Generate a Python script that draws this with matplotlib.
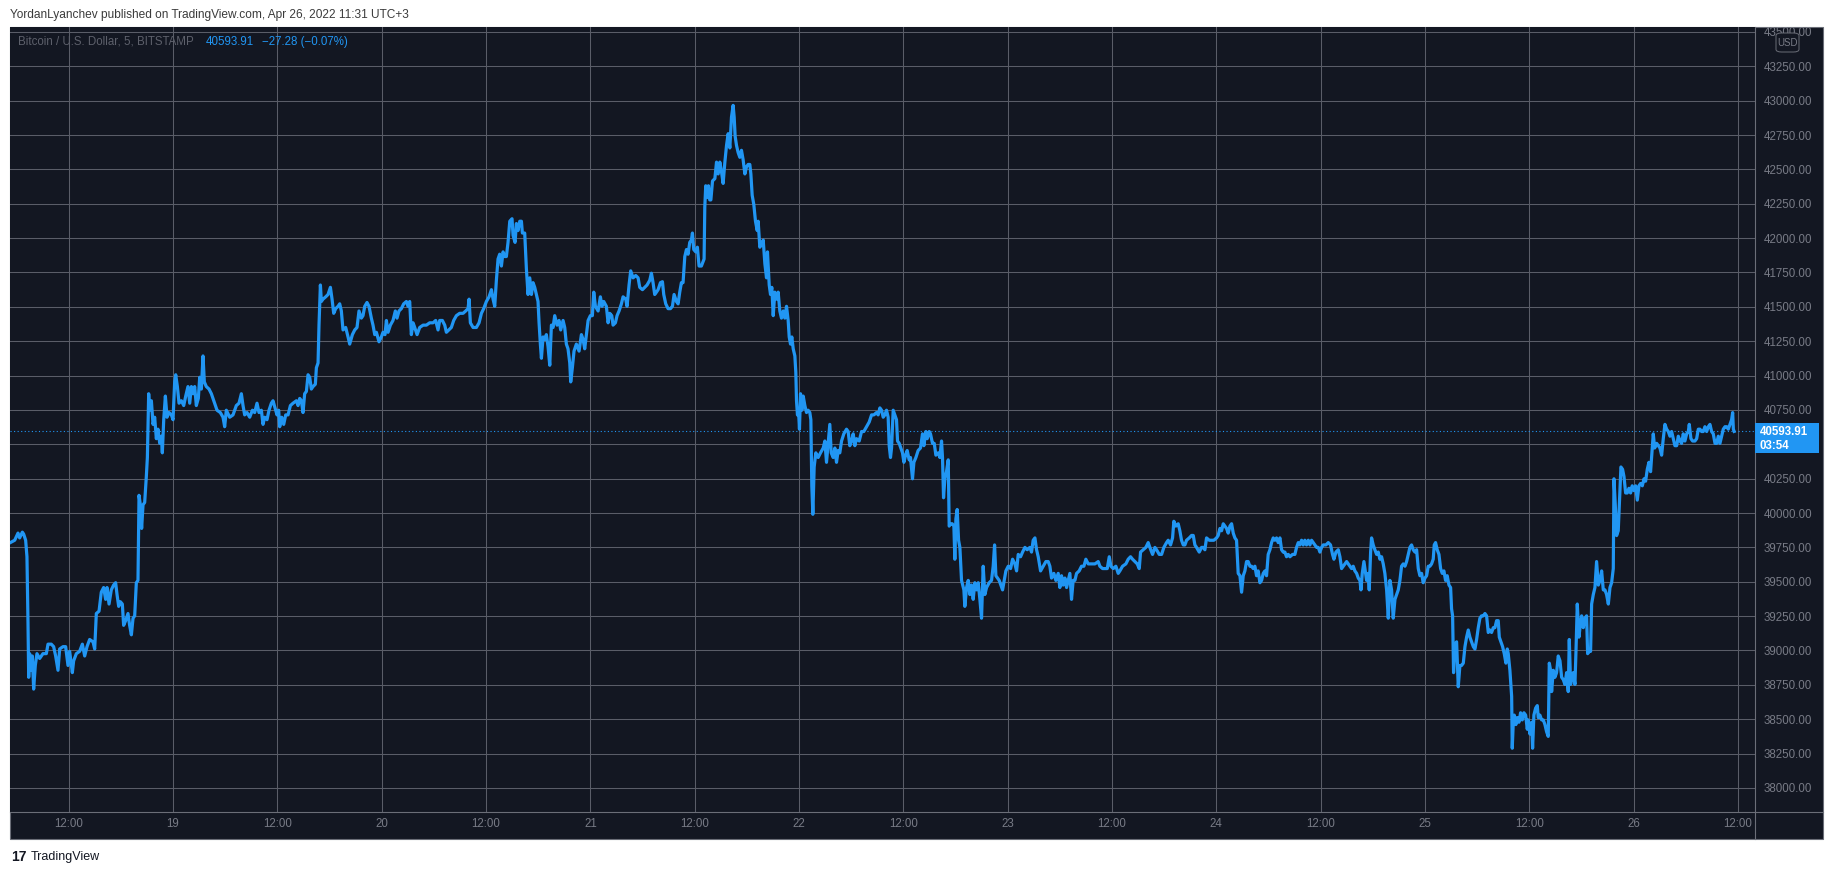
import matplotlib
matplotlib.use("Agg")
import matplotlib.pyplot as plt
import matplotlib.dates as mdates
from matplotlib.patches import Rectangle, FancyBboxPatch
from matplotlib.lines import Line2D
import numpy as np
import pandas as pd
from datetime import datetime, timedelta

# BTC/USD 5m, Bitstamp -- (hour of day, price), one list per day
apr18 = [(5.29,39785),(5.79,39802),(6.17,39854),(6.36,39819),(6.67,39861),(6.82,39847),(7.05,39802),(7.20,39682),(7.32,39200),(7.40,38805),
         (7.51,38977),(7.70,38856),(7.82,38960),(7.97,38719),(8.16,38891),(8.35,38977),(8.66,38942),(9.04,38977),(9.43,38977),(9.62,39046),
         (10.00,39046),(10.27,39028),(10.50,38960),(10.77,38856),(10.96,39011),(11.35,39028),(11.65,39028),(11.92,38891),(12.11,38994),(12.42,38839),
         (12.57,38925),(12.88,38977),(13.26,38994),(13.57,39046),(13.84,38960),(14.11,39028),(14.41,39080),(14.80,39063),(14.99,39011),(15.18,39269),
         (15.49,39286),(15.75,39424),(16.02,39458),(16.25,39372),(16.41,39458),(16.64,39338),(16.90,39441),(17.17,39476),(17.40,39493),(17.56,39407),
         (17.75,39321),(17.94,39355),(18.17,39338),(18.32,39183),(18.55,39217),(18.82,39269),(19.01,39183),(19.21,39114),(19.40,39235),(19.59,39252),
         (19.78,39493),(19.97,39510),(20.09,40129),(20.24,40060),(20.39,39888),(20.55,40060),(20.74,40077),(20.93,40266),(21.05,40404),(21.20,40868),
         (21.31,40748),(21.51,40817),(21.70,40645),(21.89,40697),(22.08,40541),(22.27,40610),(22.47,40507),(22.66,40559),(22.77,40438),(22.93,40679),
         (23.12,40851),(23.31,40697),(23.54,40731),(23.81,40714)]

apr19 = [(0.00,40679),(0.19,40954),(0.31,41006),(0.50,40920),(0.69,40799),(0.96,40817),(1.23,40782),(1.46,40851),(1.72,40920),(1.92,40799),
         (2.11,40920),(2.30,40868),(2.49,40920),(2.68,40782),(2.91,40834),(3.07,40988),(3.26,40902),(3.45,41143),(3.60,40954),(3.83,40920),
         (4.14,40902),(4.41,40868),(4.79,40799),(5.06,40748),(5.44,40731),(5.75,40697),(5.94,40628),(6.13,40748),(6.52,40697),(6.90,40714),
         (7.28,40782),(7.59,40799),(7.86,40868),(8.05,40782),(8.24,40714),(8.51,40731),(8.82,40697),(9.13,40748),(9.39,40731),(9.66,40799),
         (9.89,40731),(10.16,40748),(10.35,40645),(10.54,40697),(10.81,40679),(11.04,40748),(11.31,40799),(11.50,40817),(11.73,40765),(11.96,40714),
         (12.15,40748),(12.27,40628),(12.50,40697),(12.73,40645),(12.96,40714),(13.23,40714),(13.50,40782),(13.80,40799),(14.19,40817),(14.38,40782),
         (14.57,40834),(14.76,40817),(14.95,40731),(15.14,40868),(15.34,40885),(15.53,41006),(15.72,40988),(15.91,40902),(16.10,40920),(16.37,40937),
         (16.49,41057),(16.68,41092),(16.79,41367),(16.95,41659),(17.06,41539),(17.25,41556),(17.56,41573),(17.83,41590),(18.10,41642),(18.29,41556),
         (18.48,41453),(18.71,41487),(18.98,41504),(19.17,41522),(19.36,41470),(19.55,41332),(19.86,41350),(20.13,41281),(20.32,41229),(20.63,41298),
         (20.90,41332),(21.16,41350),(21.39,41470),(21.66,41418),(21.85,41436),(22.05,41504),(22.31,41532),(22.54,41504),(22.81,41418),(23.00,41367),
         (23.20,41298),(23.39,41315),(23.69,41246),(23.96,41281)]

apr20 = [(0.15,41315),(0.38,41298),(0.54,41401),(0.73,41315),(1.00,41367),(1.30,41401),(1.57,41470),(1.76,41418),(1.99,41470),(2.26,41487),
         (2.53,41522),(2.84,41539),(3.03,41504),(3.22,41539),(3.41,41298),(3.61,41384),(3.80,41350),(4.07,41298),(4.37,41350),(4.76,41367),
         (5.14,41367),(5.52,41384),(5.91,41384),(6.21,41401),(6.48,41332),(6.67,41401),(6.98,41401),(7.25,41367),(7.44,41315),(7.71,41332),
         (8.01,41350),(8.28,41401),(8.59,41436),(8.97,41453),(9.36,41453),(9.66,41470),(9.93,41487),(10.05,41556),(10.20,41384),(10.51,41350),
         (10.89,41350),(11.20,41384),(11.47,41453),(11.73,41487),(12.04,41539),(12.35,41573),(12.62,41625),(12.81,41556),(13.00,41504),(13.19,41693),
         (13.38,41848),(13.57,41883),(13.77,41797),(13.96,41900),(14.15,41866),(14.34,41866),(14.53,41969),(14.73,42123),(14.99,42141),(15.11,42020),
         (15.34,41969),(15.49,42106),(15.68,42055),(15.88,42123),(16.07,42123),(16.18,42037),(16.45,42037),(16.64,41779),(16.83,41590),(17.03,41711),
         (17.22,41590),(17.41,41676),(17.60,41642),(17.79,41590),(17.98,41539),(18.10,41384),(18.25,41229),(18.37,41126),(18.56,41281),(18.75,41264),
         (18.94,41298),(19.13,41212),(19.33,41075),(19.52,41367),(19.71,41350),(19.90,41436),(20.17,41367),(20.40,41401),(20.59,41332),(20.86,41401),
         (21.05,41350),(21.24,41229),(21.43,41195),(21.63,41092),(21.74,40954),(21.93,41057),(22.12,41178),(22.39,41229),(22.70,41178),(22.97,41298),
         (23.16,41264),(23.35,41195),(23.54,41298),(23.74,41401)]

apr21 = [(0.00,41436),(0.23,41436),(0.39,41607),(0.58,41504),(0.89,41470),(1.15,41573),(1.35,41504),(1.54,41539),(1.84,41504),(2.04,41384),
         (2.23,41453),(2.46,41436),(2.61,41367),(2.88,41384),(3.07,41436),(3.30,41470),(3.57,41522),(3.76,41573),(4.07,41556),(4.22,41504),
         (4.45,41659),(4.64,41762),(4.91,41711),(5.22,41728),(5.49,41711),(5.68,41642),(5.99,41625),(6.25,41642),(6.52,41659),(6.83,41693),
         (7.02,41745),(7.21,41676),(7.40,41590),(7.60,41607),(7.79,41625),(8.06,41676),(8.29,41683),(8.44,41590),(8.67,41522),(8.94,41487),
         (9.21,41487),(9.44,41504),(9.63,41590),(9.90,41539),(10.09,41522),(10.28,41607),(10.47,41676),(10.66,41676),(10.86,41866),(11.05,41917),
         (11.24,41883),(11.43,41969),(11.62,41986),(11.74,42037),(11.89,41917),(12.12,41900),(12.31,41934),(12.50,41797),(12.77,41797),(12.97,41831),
         (13.08,41848),(13.16,42226),(13.27,42381),(13.43,42295),(13.58,42381),(13.73,42278),(13.86,42278),(14.05,42416),(14.32,42433),(14.51,42553),
         (14.70,42467),(14.89,42553),(15.08,42484),(15.27,42398),(15.47,42553),(15.66,42674),(15.85,42760),(16.04,42656),(16.23,42880),(16.42,42966),
         (16.54,42880),(16.65,42742),(16.81,42674),(17.00,42622),(17.19,42588),(17.38,42639),(17.57,42570),(17.77,42467),(17.96,42519),(18.15,42536),
         (18.34,42536),(18.46,42467),(18.61,42312),(18.80,42244),(18.99,42123),(19.19,42055),(19.30,42123),(19.49,41934),(19.68,41951),(19.88,41986),
         (20.07,41814),(20.26,41711),(20.37,41900),(20.57,41659),(20.72,41590),(20.87,41642),(21.03,41436),(21.22,41607),(21.41,41556),(21.60,41607),
         (21.79,41470),(21.98,41418),(22.18,41470),(22.37,41418),(22.56,41504),(22.75,41401),(22.87,41281),(23.02,41229),(23.17,41281),(23.33,41195),
         (23.52,41143),(23.63,41023),(23.71,40816),(23.82,40713),(23.94,40748)]

apr22 = [(0.05,40610),(0.17,40868),(0.32,40748),(0.48,40851),(0.67,40782),(0.86,40731),(1.05,40748),(1.24,40731),(1.36,40679),(1.47,40198),
         (1.59,39991),(1.74,40335),(1.93,40438),(2.20,40404),(2.47,40438),(2.78,40473),(2.97,40524),(3.16,40369),(3.35,40507),(3.54,40645),
         (3.70,40438),(3.93,40404),(4.12,40473),(4.31,40369),(4.50,40455),(4.69,40438),(4.89,40524),(5.15,40576),(5.46,40610),(5.65,40593),
         (5.84,40490),(6.04,40524),(6.23,40576),(6.42,40490),(6.61,40541),(6.92,40524),(7.19,40593),(7.45,40593),(7.76,40628),(8.07,40662),
         (8.34,40714),(8.61,40714),(8.91,40731),(9.10,40714),(9.30,40765),(9.49,40748),(9.68,40697),(9.87,40714),(10.06,40748),(10.25,40697),
         (10.37,40490),(10.52,40404),(10.64,40473),(10.83,40748),(11.02,40714),(11.21,40679),(11.33,40524),(11.52,40507),(11.71,40473),(11.90,40438),
         (12.06,40369),(12.25,40421),(12.44,40455),(12.67,40387),(12.82,40404),(13.05,40249),(13.21,40369),(13.44,40404),(13.70,40455),(13.97,40473),
         (14.20,40576),(14.36,40490),(14.59,40593),(14.74,40541),(14.97,40593),(15.12,40576),(15.35,40507),(15.55,40507),(15.74,40421),(16.01,40438),
         (16.20,40404),(16.39,40524),(16.50,40404),(16.62,40111),(16.77,40249),(16.96,40301),(17.16,40387),(17.27,39905),(17.42,39922),(17.62,39922),
         (17.81,39905),(17.92,39664),(18.04,39957),(18.19,40026),(18.35,39802),(18.50,39750),(18.69,39510),(18.96,39441),(19.07,39321),(19.27,39458),
         (19.46,39510),(19.65,39407),(19.84,39476),(20.03,39372),(20.22,39493),(20.42,39441),(20.61,39493),(20.80,39372),(20.99,39235),(21.18,39613),
         (21.37,39407),(21.57,39458),(21.87,39493),(22.14,39510),(22.33,39613),(22.49,39768),(22.64,39544),(22.83,39527),(23.02,39510),(23.21,39476),
         (23.41,39441),(23.60,39510),(23.79,39579)]

apr23 = [(0.06,39613),(0.33,39596),(0.56,39664),(0.83,39630),(1.02,39579),(1.21,39699),(1.48,39682),(1.71,39716),(1.98,39750),(2.24,39733),
         (2.55,39750),(2.74,39716),(2.93,39802),(3.13,39819),(3.32,39733),(3.51,39682),(3.78,39579),(4.08,39613),(4.39,39647),(4.66,39647),
         (4.85,39613),(5.04,39527),(5.31,39561),(5.54,39510),(5.81,39561),(6.00,39458),(6.19,39544),(6.38,39476),(6.58,39527),(6.77,39458),
         (6.96,39510),(7.15,39561),(7.34,39372),(7.53,39510),(7.73,39510),(7.92,39561),(8.22,39579),(8.49,39613),(8.76,39613),(8.99,39664),
         (9.26,39630),(9.64,39630),(10.03,39630),(10.41,39647),(10.60,39613),(10.91,39596),(11.18,39596),(11.45,39596),(11.68,39682),(11.87,39613),
         (12.14,39596),(12.44,39613),(12.71,39561),(12.90,39579),(13.21,39613),(13.59,39630),(13.86,39664),(14.13,39682),(14.36,39664),(14.63,39647),
         (14.90,39630),(15.13,39596),(15.28,39716),(15.59,39733),(15.89,39750),(16.16,39785),(16.35,39750),(16.66,39699),(16.93,39750),(17.12,39733),
         (17.43,39699),(17.70,39699),(17.96,39750),(18.27,39785),(18.46,39802),(18.73,39768),(18.96,39819),(19.11,39940),(19.34,39905),(19.61,39922),
         (19.80,39871),(19.99,39802),(20.19,39768),(20.38,39768),(20.57,39802),(20.88,39819),(21.15,39837),(21.34,39837),(21.53,39768),(21.72,39750),
         (22.03,39716),(22.30,39750),(22.49,39750),(22.68,39733),(22.87,39819),(23.18,39802),(23.45,39802),(23.71,39802)]

apr24 = [(0.02,39819),(0.21,39837),(0.41,39888),(0.60,39871),(0.79,39922),(0.98,39905),(1.17,39888),(1.36,39854),(1.56,39905),(1.75,39922),
         (1.94,39854),(2.13,39819),(2.32,39802),(2.51,39561),(2.71,39544),(2.90,39424),(3.09,39544),(3.28,39579),(3.47,39647),(3.66,39647),
         (3.86,39613),(4.05,39613),(4.24,39596),(4.43,39613),(4.62,39544),(4.81,39579),(5.01,39493),(5.20,39510),(5.39,39561),(5.58,39579),
         (5.77,39544),(5.96,39699),(6.16,39733),(6.35,39785),(6.54,39819),(6.73,39802),(6.92,39819),(7.11,39785),(7.31,39819),(7.50,39733),
         (7.69,39716),(7.88,39716),(8.07,39682),(8.27,39699),(8.46,39682),(8.76,39699),(9.03,39699),(9.22,39750),(9.42,39785),(9.61,39768),
         (9.80,39802),(9.99,39768),(10.18,39802),(10.37,39768),(10.57,39802),(10.76,39768),(10.95,39802),(11.14,39785),(11.33,39768),(11.53,39750),
         (11.72,39750),(11.91,39716),(12.10,39750),(12.29,39768),(12.60,39768),(12.87,39785),(13.13,39768),(13.36,39699),(13.52,39664),(13.75,39716),
         (14.02,39733),(14.21,39682),(14.40,39596),(14.59,39613),(14.78,39630),(14.98,39647),(15.17,39630),(15.36,39613),(15.55,39596),(15.74,39613),
         (15.93,39579),(16.13,39561),(16.32,39527),(16.51,39510),(16.63,39441),(16.78,39561),(16.97,39647),(17.12,39579),(17.28,39510),(17.47,39561),
         (17.58,39441),(17.74,39716),(17.85,39819),(18.04,39768),(18.23,39733),(18.43,39699),(18.62,39716),(18.81,39664),(19.00,39682),(19.19,39630),
         (19.38,39561),(19.58,39441),(19.77,39235),(19.96,39510),(20.15,39441),(20.34,39235),(20.54,39372),(20.73,39407),(20.92,39441),(21.11,39510),
         (21.30,39613),(21.49,39630),(21.69,39613),(21.88,39647),(22.07,39699),(22.26,39750),(22.45,39768),(22.64,39733),(22.84,39716),(23.03,39733),
         (23.22,39596),(23.41,39544),(23.60,39561),(23.79,39493),(23.99,39527)]

apr25 = [(0.18,39544),(0.37,39613),(0.56,39613),(0.75,39630),(0.94,39664),(1.06,39768),(1.21,39785),(1.40,39733),(1.60,39699),(1.79,39596),
         (1.98,39561),(2.17,39579),(2.36,39510),(2.55,39544),(2.75,39476),(2.94,39458),(3.05,39304),(3.17,39252),(3.28,38839),(3.44,39046),
         (3.63,39063),(3.82,38736),(4.01,38891),(4.20,38891),(4.40,38908),(4.59,39028),(4.78,39097),(4.97,39149),(5.16,39097),(5.35,39063),
         (5.55,39028),(5.74,39011),(5.93,39080),(6.12,39166),(6.31,39235),(6.50,39252),(6.70,39252),(6.89,39269),(7.08,39252),(7.27,39131),
         (7.46,39149),(7.65,39131),(7.85,39166),(8.04,39166),(8.23,39217),(8.42,39217),(8.54,39097),(8.73,39063),(8.92,39028),(9.11,38977),
         (9.30,38908),(9.46,39011),(9.57,38977),(9.76,38856),(9.96,38667),(10.03,38289),(10.15,38478),(10.26,38530),(10.45,38461),(10.61,38512),
         (10.80,38478),(10.99,38547),(11.18,38495),(11.37,38547),(11.57,38530),(11.76,38427),(11.87,38495),(12.06,38392),(12.26,38478),(12.37,38289),
         (12.52,38530),(12.72,38581),(12.91,38599),(13.02,38512),(13.21,38530),(13.41,38495),(13.60,38495),(13.79,38461),(13.98,38409),(14.17,38375),
         (14.29,38908),(14.44,38856),(14.56,38701),(14.75,38856),(14.94,38805),(15.13,38839),(15.32,38960),(15.52,38925),(15.71,38805),(15.90,38788),
         (16.09,38753),(16.28,38839),(16.47,38701),(16.59,39080),(16.74,38753),(16.90,38805),(17.05,38839),(17.24,38753),(17.36,38994),(17.51,39338),
         (17.70,39097),(17.82,39166),(18.01,39252),(18.20,39166),(18.39,39235),(18.58,39252),(18.70,38977),(18.89,38994),(19.04,38994),(19.16,39338),
         (19.35,39407),(19.54,39458),(19.73,39647),(19.93,39476),(20.12,39510),(20.31,39579),(20.50,39441),(20.69,39441),(20.88,39407),(21.08,39338),
         (21.27,39458),(21.46,39493),(21.65,39596),(21.73,40249),(21.88,40060),(22.03,39836),(22.22,39871),(22.42,40163),(22.53,40335),(22.72,40318),
         (22.88,40266),(23.07,40146),(23.26,40146),(23.45,40180),(23.64,40146),(23.83,40198)]

apr26 = [(0.03,40163),(0.22,40198),(0.41,40094),(0.60,40198),(0.79,40215),(0.99,40198),(1.18,40249),(1.37,40232),(1.56,40318),(1.75,40369),
         (1.94,40301),(2.06,40404),(2.25,40576),(2.41,40473),(2.64,40507),(2.83,40490),(3.02,40473),(3.21,40421),(3.40,40541),(3.59,40645),
         (3.79,40610),(3.98,40593),(4.17,40559),(4.36,40593),(4.55,40541),(4.74,40490),(4.94,40490),(5.13,40559),(5.32,40524),(5.51,40507),
         (5.70,40576),(5.89,40524),(6.09,40576),(6.28,40593),(6.39,40645),(6.58,40541),(6.78,40524),(7.04,40524),(7.24,40541),(7.43,40610),
         (7.62,40610),(7.81,40593),(8.00,40593),(8.19,40628),(8.39,40593),(8.58,40628),(8.77,40645),(8.96,40593),(9.15,40576),(9.35,40507),
         (9.54,40507),(9.73,40559),(9.92,40507),(10.11,40559),(10.30,40610),(10.50,40628),(10.69,40628),(10.88,40610),(11.07,40645),(11.26,40679),
         (11.38,40731),(11.46,40610),(11.55,40593.91)]

last_price = 40593.91
change = -27.28
change_pct = -0.07
countdown = "03:54"
price_ticks = list(range(38000, 43501, 250))

start = datetime(2022, 4, 18)
view_from = start + timedelta(hours=5.25)
view_to = start + timedelta(hours=205.95)

# colours
BG = "#131722"
GRID = "#5a5d68"
EDGE = "#6b6e78"
BLUE = "#2196f3"
AXTXT = "#787b86"

plt.rcParams['font.family'] = ['Liberation Sans', 'DejaVu Sans']

W, H = 1834, 875
fig = plt.figure(figsize=(W / 100, H / 100), dpi=100)
fig.patch.set_facecolor("white")

def fx(px):
    return px / W

def fy(py):
    return 1 - py / H

# dark panel behind chart + both scales
fig.patches.append(Rectangle((fx(10), fy(839)), fx(1823) - fx(10), fy(27) - fy(839),
                             transform=fig.transFigure, facecolor=BG, edgecolor=EDGE,
                             lw=0.8, zorder=-1))

ax = fig.add_axes([fx(10), fy(812), fx(1755) - fx(10), fy(27) - fy(812)])
ax.set_facecolor(BG)

times, values = [], []
for i, day in enumerate([apr18, apr19, apr20, apr21, apr22, apr23, apr24, apr25, apr26]):
    for h, p in day:
        times.append(start + timedelta(days=i, hours=h))
        values.append(p)

ax.plot(times, values, color=BLUE, lw=2.3, solid_joinstyle="round", zorder=3)
ax.axhline(last_price, color=BLUE, lw=0.8, ls=(0, (1, 2.2)), zorder=2)

ax.set_xlim(view_from, view_to)
ax.set_ylim(37825, 43536)

# time scale: every 12h
tick_times = [start + timedelta(hours=h) for h in range(12, 205, 12)]
tick_labels = ["12:00" if t.hour == 12 else str(t.day) for t in tick_times]
ax.set_xticks(tick_times)
ax.set_xticklabels(tick_labels)

# last price position on screen (price marker hides the scale label under it)
y_disp = ax.transData.transform((mdates.date2num(view_from), last_price))[1]

def price_label(v):
    yv = ax.transData.transform((mdates.date2num(view_from), v))[1]
    if y_disp - 28 < yv < y_disp + 14:
        return ""
    return f"{v:.2f}"

ax.yaxis.tick_right()
ax.set_yticks(price_ticks)
ax.set_yticklabels([price_label(v) for v in price_ticks])

ax.tick_params(axis="both", length=0, colors=AXTXT, labelsize=8.3)
ax.tick_params(axis="y", pad=6.5)
ax.tick_params(axis="x", pad=4.5)
ax.grid(True, color=GRID, lw=0.75)
ax.set_axisbelow(True)
for s in ["left", "top"]:
    ax.spines[s].set_visible(False)
for s in ["right", "bottom"]:
    ax.spines[s].set_color(EDGE)
    ax.spines[s].set_linewidth(0.8)

# separators carried into the scale areas
fig.add_artist(Line2D([fx(1755), fx(1755)], [fy(812), fy(839)], color=EDGE, lw=0.8))
fig.add_artist(Line2D([fx(1755), fx(1823)], [fy(812), fy(812)], color=EDGE, lw=0.8))

# last price marker on the price scale
fig.patches.append(Rectangle((fx(1755), (y_disp - 22) / H), fx(1819) - fx(1755), 30 / H,
                             transform=fig.transFigure, facecolor=BLUE, edgecolor="none", zorder=3))
fig.text(fx(1760), (y_disp - 1) / H, f"{last_price:.2f}", color="white", fontsize=8.3,
         fontweight="bold", va="center", ha="left", zorder=4)
fig.text(fx(1760), (y_disp - 15) / H, countdown, color="white", fontsize=8.3,
         fontweight="bold", va="center", ha="left", zorder=4)

# currency badge
fig.patches.append(FancyBboxPatch((fx(1776), fy(52)), fx(1799) - fx(1776), fy(33) - fy(52),
                                  boxstyle="round,pad=0,rounding_size=0.003",
                                  transform=fig.transFigure, facecolor=BG, edgecolor=EDGE,
                                  lw=0.7, zorder=3))
fig.text(fx(1787.5), fy(42.5), "USD", color=AXTXT, fontsize=7, ha="center", va="center", zorder=4)

# header and legend
fig.text(fx(10), fy(15), "YordanLyanchev published on TradingView.com, Apr 26, 2022 11:31 UTC+3",
         color="#3b3b3b", fontsize=8.6, va="center", ha="left")
fig.text(fx(18), fy(42), "Bitcoin / U.S. Dollar, 5, BITSTAMP", color="#5d606b",
         fontsize=8.3, va="center", ha="left")
fig.text(fx(206), fy(42), f"{last_price:.2f}", color=BLUE, fontsize=8.3, va="center", ha="left")
fig.text(fx(262), fy(42), f"\u2212{abs(change):.2f} (\u2212{abs(change_pct):.2f}%)", color=BLUE,
         fontsize=8.3, va="center", ha="left")

# footer logo
fig.text(fx(11), fy(857), "17", color=BG, fontsize=10, fontweight="heavy", va="center", ha="left")
fig.text(fx(31), fy(857), "TradingView", color=BG, fontsize=9, va="center", ha="left")

fig.savefig("out.png", dpi=100, facecolor=fig.get_facecolor())
